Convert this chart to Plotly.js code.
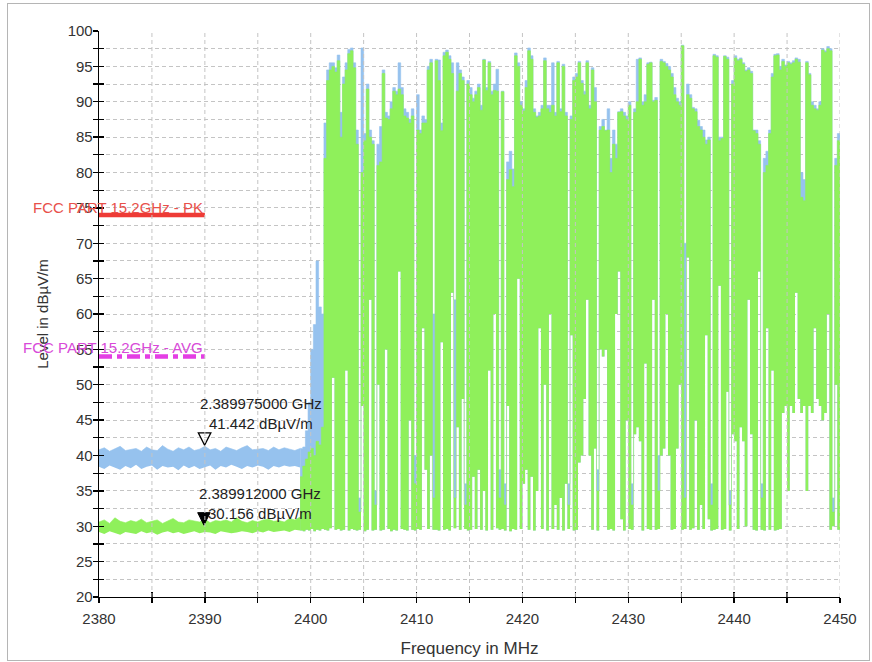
<!DOCTYPE html>
<html><head><meta charset="utf-8">
<script src="https://cdn.plot.ly/plotly-3.0.1.min.js"></script>
<style>
html,body{margin:0;padding:0;background:#fff;}
#chart{width:872px;height:662px;}
#frame{position:absolute;left:7px;top:3px;width:861px;height:656px;border:1px solid #b5b5b5;pointer-events:none;}
</style>
</head><body>
<div id="chart"></div><div id="frame"></div>
<script>
// ---------- DATA ----------
// sub-band below 2399 MHz, sampled every 0.5 MHz from 2380.0 to 2399.0
const lowStart = 2380.0, lowStep = 0.5;
const peakLowHi = [40.8,41.1,40.6,40.9,41.3,40.7,40.9,41.0,40.6,41.2,40.8,40.7,41.4,40.9,40.6,41.1,40.8,41.2,40.7,40.9,41.3,40.8,41.0,40.6,41.2,40.9,40.7,41.1,41.4,40.8,40.9,41.0,40.7,41.2,40.8,41.1,40.9,40.7,41.0];
const peakLowLo = [38.4,38.1,38.6,38.3,38.0,38.5,38.2,38.7,38.1,38.4,38.6,38.0,38.5,38.3,38.4,37.9,38.6,38.2,38.5,38.1,38.4,38.6,38.0,38.5,38.3,38.7,38.4,38.1,38.5,38.3,38.6,38.4,38.0,38.5,38.3,38.6,38.4,38.5,38.3];
const avgLowHi  = [30.6,30.9,30.4,31.2,30.7,30.5,30.8,30.6,31.0,30.5,30.7,30.9,30.4,30.8,31.1,30.6,30.5,30.9,30.7,30.6,31.0,30.5,30.8,30.7,30.9,30.6,31.2,30.7,30.5,30.8,30.6,30.9,31.0,30.7,30.8,30.6,31.1,30.9,31.3];
const avgLowLo  = [29.2,28.9,29.3,29.0,28.8,29.2,29.1,28.9,29.3,29.0,29.2,28.8,29.1,29.3,29.0,29.2,28.9,29.1,29.3,29.0,29.2,29.1,28.9,29.3,29.2,29.0,29.1,29.3,29.2,29.0,29.3,29.1,29.4,29.2,29.3,29.4,29.2,29.5,29.4];

// band 2399.0 .. 2450.0 MHz, sampled every 0.25 MHz (rows = 1 MHz)
const bandStart = 2399.0, bandStep = 0.25;
const peakBandHi = [
 41.0,41.2,43.5,47.5,   // 2399
 55,58.5,67.5,61,       // 2400
 60,87,94.5,95.5,       // 2401
 95.5,94.8,96.6,88.5,   // 2402
 93.5,95.5,97.4,97.6,   // 2403
 95.5,86,34,97.6,       // 2404
 85.5,92.5,86,84.5,     // 2405
 35,84,86.5,94.5,       // 2406
 88.5,88,90,92,         // 2407
 91.5,95.5,92,89,       // 2408
 88.5,87.5,89,40,       // 2409
 91,86,88,87.5,         // 2410
 95,96,60,96,           // 2411
 95.9,87,97,97.3,       // 2412
 96.5,95.5,62,95.5,     // 2413
 94.5,93.5,36,93,       // 2414
 92,90.5,91.5,92.5,     // 2415
 89.5,96,92,95.7,       // 2416
 91.5,92.5,94.6,38,     // 2417
 91.5,36,81.5,83,       // 2418
 80.5,96.9,95.5,90,     // 2419
 89,93,97.6,96.5,       // 2420
 89,88,88.5,89.5,       // 2421
 96.2,89.5,89.5,95.5,   // 2422
 88.5,95.7,89,95.3,     // 2423
 88.5,36,88,93.5,       // 2424
 94,95.7,93,91.5,       // 2425
 95.8,89.5,94.8,92,     // 2426
 38,86.5,87.5,86,       // 2427
 89,82,86,84,           // 2428
 88.6,89,88.5,88,       // 2429
 90,36,89,96,           // 2430
 96.2,90,91,95.5,       // 2431
 95.6,90.2,90.6,40,     // 2432
 96,95.7,95.4,95,       // 2433
 94,92,90.5,90,         // 2434
 98,70,92.5,91,         // 2435
 89.2,89,87.4,86.5,     // 2436
 86,84.6,85,36,         // 2437
 96.7,96.5,85,85,       // 2438
 96.5,96.3,35,93,       // 2439
 96.5,96,96.2,95.5,     // 2440
 94.5,94.8,94.3,86,     // 2441
 86,84.5,36,82,         // 2442
 83,86,94,96.7,         // 2443
 96.8,95,96,95.2,       // 2444
 95.7,95.5,95.8,96.2,   // 2445
 96,80,79,95.7,         // 2446
 94,90,89.5,89,         // 2447
 90,97.5,97.2,97.8,     // 2448
 97.5,34,82,85.5,       // 2449
 84                     // 2450
];
const avgBandHi = [
 37,38.5,39.5,40.5,     // 2399
 41,40,42,41.5,         // 2400
 44,82,93,94.5,         // 2401
 95,94.2,95.8,85,       // 2402
 92.5,94.5,96.8,97.2,   // 2403
 94.8,84,32,80,         // 2404
 84.5,91.8,85,84,       // 2405
 33,81,81.5,94,         // 2406
 87.7,87.5,89,91.5,     // 2407
 91,91.8,91,88,         // 2408
 87.7,87,88,36,         // 2409
 86,85.5,87,87,         // 2410
 94.5,95.5,34,95.8,     // 2411
 93,85.9,96.5,97,       // 2412
 96,94,34,91.5,         // 2413
 94,93,33,92.5,         // 2414
 91,90,91,92,           // 2415
 88.8,95.9,91.6,95.5,   // 2416
 91,91.6,91.5,34,       // 2417
 91.4,33,79,80.4,       // 2418
 78,96.5,95,89.5,       // 2419
 88.7,92,97.2,96,       // 2420
 88.5,87.8,88,89,       // 2421
 95.8,89,88.5,89.5,     // 2422
 88,95.5,88.6,95,       // 2423
 88,33,87.5,93,         // 2424
 93.5,95.5,92.6,91,     // 2425
 95.5,89,94.5,90,       // 2426
 35,86,86.5,85.9,       // 2427
 86,80,84,82,           // 2428
 88.5,88.6,88,87.5,     // 2429
 89.5,33,88.5,90,       // 2430
 96,89.5,90,95.3,       // 2431
 95.5,90,90.2,35,       // 2432
 95.7,95.5,95,94.5,     // 2433
 93.5,91,90,89.5,       // 2434
 97.9,34,91,90.5,       // 2435
 89,88.6,86.5,86,       // 2436
 85,84,84.6,33,         // 2437
 96.5,96.3,84.5,84.8,   // 2438
 96.4,96,33,92.5,       // 2439
 96.2,95.8,96,95.3,     // 2440
 94.3,94.5,94,85.9,     // 2441
 85.5,84,34,80,         // 2442
 81,85.5,93.5,96.5,     // 2443
 96.6,94.5,95.7,95,     // 2444
 95.5,95.3,95.5,96,     // 2445
 95.6,76.5,76,95.5,     // 2446
 93.8,89.5,89,88.8,     // 2447
 89.5,97.3,97,97.5,     // 2448
 97.2,32,81,84.5,       // 2449
 83                     // 2450
];
const avgBandLo = [
 29.4,29.3,29.5,29.4,   // 2399
 29.6,29.3,29.5,29.4,   // 2400
 29.6,29.5,29.4,29.7,   // 2401
 51,29.5,29.6,29.4,     // 2402
 29.5,52,29.4,29.6,     // 2403
 29.5,29.4,29.5,47,     // 2404
 29.3,29.5,62,29.4,     // 2405
 29.5,50,29.4,29.5,     // 2406
 55,29.6,29.3,29.5,     // 2407
 29.4,66,29.6,29.5,     // 2408
 29.4,45,29.5,29.4,     // 2409
 29.6,29.5,58,38,       // 2410
 29.6,40,29.5,29.5,     // 2411
 29.4,56,29.5,29.6,     // 2412
 29.4,63,29.7,44,       // 2413
 29.5,48,29.6,29.4,     // 2414
 29.5,37,29.6,38,       // 2415
 29.5,35,29.4,52,       // 2416
 29.5,60,29.7,29.5,     // 2417
 29.6,29.4,47,29.3,     // 2418
 29.6,29.5,65,29.6,     // 2419
 36,38,29.5,37,         // 2420
 29.4,35,58,29.6,       // 2421
 50,29.4,60,29.6,       // 2422
 33,29.5,34,29.4,       // 2423
 36,29.6,57,29.4,       // 2424
 29.5,39,40,48,         // 2425
 62,40,29.5,41,         // 2426
 29.4,55,54,55,         // 2427
 29.5,29.6,29.4,60,     // 2428
 66,31,29.4,45,         // 2429
 29.6,29.5,43,44,       // 2430
 42,29.4,53,29.6,       // 2431
 29.5,62,29.5,29.6,     // 2432
 40,41,60,40,           // 2433
 29.5,29.6,41,50,       // 2434
 29.5,29.6,68,29.5,     // 2435
 29.7,45,29.5,33,       // 2436
 29.6,57,31,29.4,       // 2437
 29.5,29.6,64,29.5,     // 2438
 29.6,49,29.4,43,       // 2439
 42,29.6,44,42,         // 2440
 30,62,43,29.5,         // 2441
 29.4,66,29.5,29.4,     // 2442
 58,29.5,52,29.4,       // 2443
 29.5,29.6,46,47,       // 2444
 35,47,46,63,           // 2445
 48,46,47,35,           // 2446
 47,46,58,48,           // 2447
 47,45,46,60,           // 2448
 29.5,30,50,29.5,       // 2449
 29.6                   // 2450
];

// limit lines
const limitFreq = [2380, 2390];
const limitPK = [74, 74];
const limitAVG = [54, 54];
const limitPKLabel = 'FCC PART 15.2GHz - PK';
const limitAVGLabel = 'FCC PART 15.2GHz - AVG';

// markers
const mkPKFreq = [2389.975], mkPKLevel = [41.442];
const mkAVFreq = [2389.912], mkAVLevel = [30.156];
const mkPKText = '2.389975000 GHz<br>41.442 dBµV/m';
const mkAVText = '2.389912000 GHz<br>30.156 dBµV/m';

// axes
const xRange = [2380, 2450], yRange = [20, 100];
const xTitle = 'Frequency in MHz';
const yTitle = 'Level in dBµV/m';

// ---------- BUILD ----------
const lowFreq = peakLowHi.map((_, i) => lowStart + i * lowStep);
const bandFreq = peakBandHi.map((_, i) => bandStart + i * bandStep);

const BLUE = '#96c2ee', GREEN = '#8ff05b';
const FONT = "'Liberation Sans', Arial, sans-serif";

function band(x, lo, hi, color, shape) {
  return [
    {x: x, y: lo, mode: 'lines', line: {width: 0, shape: shape, color: color}, hoverinfo: 'skip', showlegend: false},
    {x: x, y: hi, mode: 'lines', line: {width: 0.6, shape: shape, color: color}, fill: 'tonexty', fillcolor: color, hoverinfo: 'skip', showlegend: false}
  ];
}

const traces = [].concat(
  band(lowFreq, peakLowLo, peakLowHi, BLUE, 'linear'),
  band(bandFreq, avgBandLo, peakBandHi, BLUE, 'hv'),
  band(lowFreq, avgLowLo, avgLowHi, GREEN, 'linear'),
  band(bandFreq, avgBandLo, avgBandHi, GREEN, 'hv'),
  [
    {x: limitFreq, y: limitPK, mode: 'lines', line: {color: '#ee3b36', width: 4.5}, showlegend: false},
    {x: limitFreq, y: limitAVG, mode: 'lines', line: {color: '#e43ee4', width: 4.5, dash: '13px,5px,5px,5px'}, showlegend: false},
    {x: mkPKFreq, y: mkPKLevel, mode: 'markers', marker: {symbol: 'arrow-down-open', size: 12.5, color: '#000', line: {color: '#000', width: 1.3}}, showlegend: false},
    {x: mkAVFreq, y: mkAVLevel, mode: 'markers', marker: {symbol: 'arrow-down', size: 12.5, color: '#000', line: {color: '#000', width: 1}}, showlegend: false},
    {x: [], y: [], xaxis: 'x2', yaxis: 'y2', mode: 'markers', showlegend: false}
  ]
);

// vertical grid drawn above the traces
const shapes = [];
for (let f = xRange[0] + 5; f <= xRange[1] + 0.001; f += 5) {
  shapes.push({type: 'line', xref: 'x', yref: 'y', x0: f, x1: f, y0: yRange[0], y1: yRange[1], layer: 'above',
               line: {color: '#c4c4c4', width: 1, dash: '4px,3px'}});
}

const tickStyle = {ticklen: 5, tickwidth: 1.3, tickcolor: '#000'};
const layout = {
  width: 872, height: 662,
  margin: {l: 98.5, r: 32, t: 31, b: 65, pad: 0},
  paper_bgcolor: '#fff', plot_bgcolor: '#fff',
  showlegend: false,
  font: {family: FONT, size: 15, color: '#333'},
  xaxis: Object.assign({
    range: xRange, tick0: 2380, dtick: 10, ticks: 'outside',
    showline: true, linecolor: '#000', linewidth: 1.3, showgrid: false, zeroline: false,
    minor: Object.assign({dtick: 5, ticks: 'outside', showgrid: false}, tickStyle),
    tickfont: {family: FONT, size: 15, color: '#333'},
    ticklabelstandoff: 3,
    title: {text: xTitle, font: {family: FONT, size: 17, color: '#333'}, standoff: 15},
    fixedrange: true
  }, tickStyle),
  yaxis: Object.assign({
    range: yRange, tick0: 20, dtick: 5, ticks: 'outside',
    showline: true, linecolor: '#000', linewidth: 1.3, zeroline: false,
    showgrid: true, gridcolor: '#c4c4c4', gridwidth: 1, griddash: '4px,3px',
    minor: Object.assign({dtick: 2.5, ticks: 'outside', showgrid: true, gridcolor: '#c4c4c4', gridwidth: 1, griddash: '4px,3px'}, tickStyle),
    tickfont: {family: FONT, size: 15, color: '#333'},
    ticklabelstandoff: -3,
    title: {text: yTitle + '\u00a0\u00a0\u00a0\u00a0\u00a0', font: {family: FONT, size: 15, color: '#333'}, standoff: 15},
    fixedrange: true
  }, tickStyle),
  xaxis2: Object.assign({
    overlaying: 'x', anchor: 'y2', range: xRange, tick0: 2380, dtick: 10, ticks: 'inside',
    showticklabels: false, showgrid: false, showline: false, zeroline: false,
    minor: Object.assign({dtick: 5, ticks: 'inside', showgrid: false}, tickStyle), fixedrange: true
  }, tickStyle),
  yaxis2: Object.assign({
    overlaying: 'y', anchor: 'x2', range: yRange, tick0: 20, dtick: 5, ticks: 'inside',
    showticklabels: false, showgrid: false, showline: false, zeroline: false,
    minor: Object.assign({dtick: 2.5, ticks: 'inside', showgrid: false}, tickStyle), fixedrange: true
  }, tickStyle),
  shapes: shapes,
  annotations: [
    {x: limitFreq[1], y: limitPK[0], xref: 'x', yref: 'y', text: limitPKLabel, showarrow: false,
     xanchor: 'right', yanchor: 'middle', yshift: 7, font: {family: FONT, size: 15, color: '#e8504a'}},
    {x: limitFreq[1], y: limitAVG[0], xref: 'x', yref: 'y', text: limitAVGLabel, showarrow: false,
     xanchor: 'right', yanchor: 'middle', yshift: 9, font: {family: FONT, size: 15, color: '#d84ad8'}},
    {x: mkPKFreq[0], y: mkPKLevel[0], xref: 'x', yref: 'y', text: mkPKText, showarrow: false,
     xanchor: 'center', yanchor: 'middle', xshift: 56, yshift: 32, align: 'center', font: {family: FONT, size: 15, color: '#222'}},
    {x: mkAVFreq[0], y: mkAVLevel[0], xref: 'x', yref: 'y', text: mkAVText, showarrow: false,
     xanchor: 'center', yanchor: 'middle', xshift: 56, yshift: 21.5, align: 'center', font: {family: FONT, size: 15, color: '#222'}}
  ]
};

Plotly.newPlot('chart', traces, layout, {staticPlot: true, displayModeBar: false});
</script>
</body></html>
